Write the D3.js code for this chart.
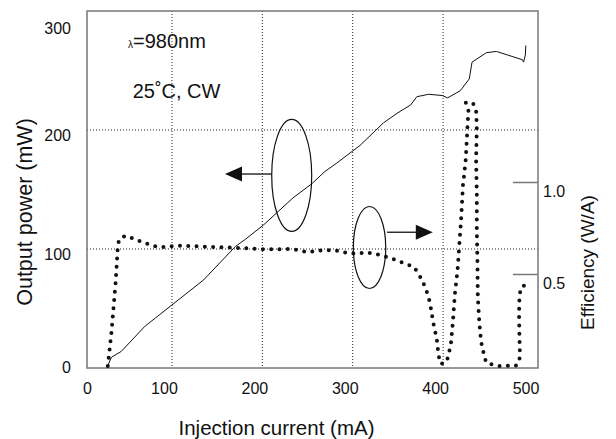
<!DOCTYPE html>
<html>
<head>
<meta charset="utf-8">
<script src="https://cdn.jsdelivr.net/npm/d3@7/dist/d3.min.js"></script>
<style>
    body { margin: 0; background: #fff; }
    text { font-family: "Liberation Sans", Arial, sans-serif; fill: #111; }
</style>
</head>
<body>
<svg id="chart" width="616" height="439"></svg>
<script>
// output power curve (mA, mW)
var powerCurrent = [29, 33, 44, 70, 100, 135, 140, 170, 181, 201, 234, 255, 269, 282, 308, 334, 349, 364, 371, 384, 399, 405, 419, 429, 432, 448, 459, 488, 489, 491, 491.5];
var powerValues = [2, 9, 14, 35, 53, 74, 78, 102, 108, 120, 143, 155, 165, 172, 187, 206, 214, 221, 228, 230, 229, 227, 233, 243, 257, 265, 266, 259, 257, 263, 271];

// efficiency curve (mA, W/A)
var effCurrent = [29, 33, 37.7, 39.9, 41.3, 48, 57, 66, 74.5, 83, 92, 101, 111, 140, 168, 205, 232, 242, 251, 260, 279, 288, 297, 306, 315, 325, 334, 343, 352, 360, 368, 373, 377.5, 381, 384, 386, 389, 393, 395, 397.5, 404, 408.5, 411, 413, 416, 418, 420, 422, 423, 425, 426, 427, 428, 425, 433.5, 436.5, 437.3, 436.5, 437.3, 437.3, 438, 438.4, 440, 441.7, 443, 445.4, 447.6, 452, 461, 470, 480, 484, 485, 484.5, 484, 484.5, 486, 492.7];
var effValues = [0, 0.18, 0.455, 0.636, 0.685, 0.708, 0.694, 0.676, 0.661, 0.648, 0.647, 0.652, 0.654, 0.648, 0.643, 0.634, 0.636, 0.627, 0.618, 0.627, 0.63, 0.621, 0.612, 0.612, 0.618, 0.609, 0.598, 0.585, 0.567, 0.554, 0.536, 0.5, 0.458, 0.417, 0.373, 0.328, 0.238, 0.147, 0.056, 0.011, 0.023, 0.114, 0.25, 0.39, 0.522, 0.663, 0.803, 0.984, 1.026, 1.12, 1.21, 1.3, 1.39, 1.433, 1.424, 1.388, 1.3, 1.12, 0.929, 0.739, 0.558, 0.377, 0.241, 0.151, 0.105, 0.06, 0.018, 0.011, 0, 0.002, 0, 0.018, 0.06, 0.151, 0.287, 0.377, 0.426, 0.446];

var xTicks = [0, 100, 200, 300, 400, 500];
var yTicks = [0, 100, 200, 300];
var effTicks = [0.5, 1.0];
var xGrid = [100, 200, 300, 400];
var yGrid = [100, 200];

var svg = d3.select("#chart"),
    margin = {
        top: 11,
        right: 78,
        bottom: 71,
        left: 87
    },
    width = +svg.attr("width") - margin.left - margin.right,
    height = +svg.attr("height") - margin.top - margin.bottom;

var x = d3.scaleLinear().domain([6, 505]).range([0, width]),
    y = d3.scaleLinear().domain([0, 300]).range([height, 0]),
    yEff = d3.scaleLinear().domain([0, 1]).range([height - 2, height - 186]);

var g = svg.append("g")
    .attr("transform", "translate(" + margin.left + "," + margin.top + ")");

// grid
g.selectAll(".vgrid")
    .data(xGrid)
    .enter().append("line")
    .attr("x1", function(d) { return x(d); })
    .attr("x2", function(d) { return x(d); })
    .attr("y1", 0)
    .attr("y2", height)
    .attr("stroke", "#222")
    .attr("stroke-width", 1)
    .attr("stroke-dasharray", "1,2");

g.selectAll(".hgrid")
    .data(yGrid)
    .enter().append("line")
    .attr("x1", 0)
    .attr("x2", width)
    .attr("y1", function(d) { return y(d); })
    .attr("y2", function(d) { return y(d); })
    .attr("stroke", "#222")
    .attr("stroke-width", 1)
    .attr("stroke-dasharray", "1,2");

// axes (labels only, the frame is drawn below)
var xAxis = g.append("g")
    .attr("transform", "translate(0," + height + ")")
    .call(d3.axisBottom(x).tickValues(xTicks).tickSize(0).tickPadding(15));
xAxis.select(".domain").remove();
xAxis.selectAll(".tick text")
    .attr("font-size", 16)
    .attr("font-family", "Liberation Sans, Arial, sans-serif")
    .attr("x", function(d) { return Math.max(x(d) - 8, 0) - x(d); });

var yAxis = g.append("g")
    .call(d3.axisLeft(y).tickValues(yTicks).tickSize(0).tickPadding(16));
yAxis.select(".domain").remove();
yAxis.selectAll(".tick text")
    .attr("font-size", 16)
    .attr("font-family", "Liberation Sans, Arial, sans-serif")
    .attr("y", function(d) { return Math.min(Math.max(y(d) + 5, 17), height - 0.5) - y(d); });

var effAxis = g.append("g")
    .attr("transform", "translate(" + width + ",0)")
    .call(d3.axisRight(yEff).tickValues(effTicks).tickSizeInner(-25).tickSizeOuter(0).tickPadding(5)
        .tickFormat(d3.format(".1f")));
effAxis.select(".domain").remove();
effAxis.selectAll(".tick line")
    .attr("stroke", "#777")
    .attr("stroke-width", 1.5);
effAxis.selectAll(".tick text")
    .attr("font-size", 16)
    .attr("font-family", "Liberation Sans, Arial, sans-serif")
    .attr("dy", "0.9em");

// frame
g.append("rect")
    .attr("width", width)
    .attr("height", height)
    .attr("fill", "none")
    .attr("stroke", "#777")
    .attr("stroke-width", 1.5);

// output power line
var powerData = powerCurrent.map(function(d, i) { return { I: d, P: powerValues[i] }; });
g.append("path")
    .datum(powerData)
    .attr("fill", "none")
    .attr("stroke", "#111")
    .attr("stroke-width", 1)
    .attr("d", d3.line()
        .x(function(d) { return x(d.I); })
        .y(function(d) { return y(d.P); })
    );

// efficiency, dotted
var effData = effCurrent.map(function(d, i) { return { I: d, E: effValues[i] }; });
g.append("path")
    .datum(effData)
    .attr("fill", "none")
    .attr("stroke", "#111")
    .attr("stroke-width", 4)
    .attr("stroke-linecap", "round")
    .attr("stroke-linejoin", "round")
    .attr("stroke-dasharray", "0,8.3")
    .attr("d", d3.line()
        .x(function(d) { return x(d.I); })
        .y(function(d) { return yEff(d.E); })
    );

// annotations: ellipse + arrow for each curve
function arrow(cx, cy, rx, ry, x0, x1, yy) {
    g.append("ellipse")
        .attr("cx", cx).attr("cy", cy)
        .attr("rx", rx).attr("ry", ry)
        .attr("fill", "none")
        .attr("stroke", "#111")
        .attr("stroke-width", 1.2);
    var dir = x1 > x0 ? 1 : -1;
    g.append("line")
        .attr("x1", x0).attr("x2", x1 - dir * 16)
        .attr("y1", yy).attr("y2", yy)
        .attr("stroke", "#111")
        .attr("stroke-width", 1.3);
    g.append("path")
        .attr("d", "M" + x1 + "," + yy + "L" + (x1 - dir * 17) + "," + (yy - 7.5) + "L" + (x1 - dir * 17) + "," + (yy + 7.5) + "Z")
        .attr("fill", "#111");
}
arrow(x(232.5), y(161.8), 20, 56, x(232.5) - 20, x(158.7), y(163));
arrow(x(318.6), yEff(0.644), 16.2, 41, x(338), x(388.6), yEff(0.727));

// condition text
var t1 = g.append("text")
    .attr("x", x(51.4))
    .attr("y", y(268.5))
    .attr("font-size", 20);
t1.append("tspan").attr("font-size", 10).text("λ");
t1.append("tspan").text("=980nm");

g.append("text")
    .attr("x", x(56.5))
    .attr("y", y(226.6))
    .attr("font-size", 20)
    .text("25˚C, CW");

// axis titles
svg.append("text")
    .attr("text-anchor", "middle")
    .attr("font-size", 20.5)
    .attr("x", 276.5)
    .attr("y", 435)
    .text("Injection current (mA)");

svg.append("text")
    .attr("text-anchor", "middle")
    .attr("font-size", 21.5)
    .attr("transform", "translate(31.5,212) rotate(-90)")
    .text("Output power (mW)");

svg.append("text")
    .attr("text-anchor", "middle")
    .attr("font-size", 19)
    .attr("transform", "translate(594,262.5) rotate(-90)")
    .text("Efficiency (W/A)");
</script>
</body>
</html>
